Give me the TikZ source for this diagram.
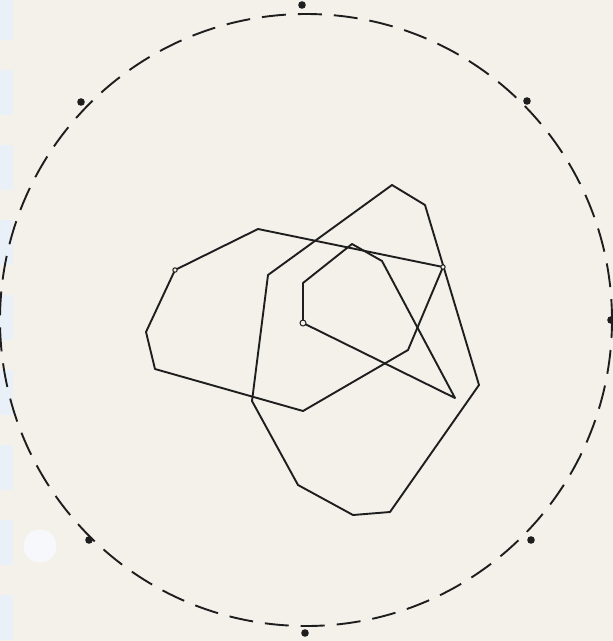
\documentclass[tikz,border=0pt]{standalone}
\definecolor{paper}{RGB}{243,241,234}
\definecolor{tab}{RGB}{234,240,248}
\definecolor{hole}{RGB}{246,248,251}
\definecolor{ink}{RGB}{30,30,30}
\tikzset{
  poly/.style={draw=ink, line width=1.9pt, line join=round, line cap=round},
  dashring/.style={draw=ink, line width=1.9pt, dash pattern=on 24pt off 12pt, dash phase=6pt},
  rimdot/.style={fill=ink},
  vmark/.style={draw=ink, line width=1pt, fill=paper},
  papertab/.style={fill=tab, draw=none}
}
\begin{document}
\begin{tikzpicture}[x=1pt,y=-1pt]
\useasboundingbox (0,0) rectangle (613,641);
\fill[paper] (0,0) rectangle (613,641);
% binder strip tabs and punch hole
\foreach \t in {-5,70,145,220,295,370,445,520,595}
  \fill[papertab] (0,\t) rectangle (12.5,\t+45);
\fill[hole] (40,546) circle (16.5);
% dashed ring and rim dots
\coordinate (ctr) at (306,320);
\draw[dashring] (ctr) circle (306);
\foreach \p in {(302,5),(527,101),(611,320),(531,540),(305,633),(89,540),(81,102)}
  \fill[rimdot] \p circle (3.8);
% polygon A
\coordinate (a1) at (258,229);
\coordinate (a2) at (175,270);
\coordinate (a3) at (146,332);
\coordinate (a4) at (155,369);
\coordinate (a5) at (303,411);
\coordinate (a6) at (408,350);
\coordinate (a7) at (443,267);
\draw[poly] (a1) -- (a2) -- (a3) -- (a4) -- (a5) -- (a6) -- (a7) -- cycle;
% polygon B
\coordinate (b1) at (392,185);
\coordinate (b2) at (425,205);
\coordinate (b3) at (479,385);
\coordinate (b4) at (390,512);
\coordinate (b5) at (353,515);
\coordinate (b6) at (298,485);
\coordinate (b7) at (252,401);
\coordinate (b8) at (268,275);
\draw[poly] (b1) -- (b2) -- (b3) -- (b4) -- (b5) -- (b6) -- (b7) -- (b8) -- cycle;
% polygon C
\coordinate (c1) at (352,244);
\coordinate (c2) at (382,261);
\coordinate (c3) at (455,398);
\coordinate (c4) at (303,323);
\coordinate (c5) at (303,283);
\draw[poly] (c1) -- (c2) -- (c3) -- (c4) -- (c5) -- cycle;
% small vertex marks
\draw[vmark] (c4) circle (3);
\draw[vmark] (a2) circle (2.2);
\draw[vmark] (a7) circle (2.2);
\end{tikzpicture}
\end{document}
